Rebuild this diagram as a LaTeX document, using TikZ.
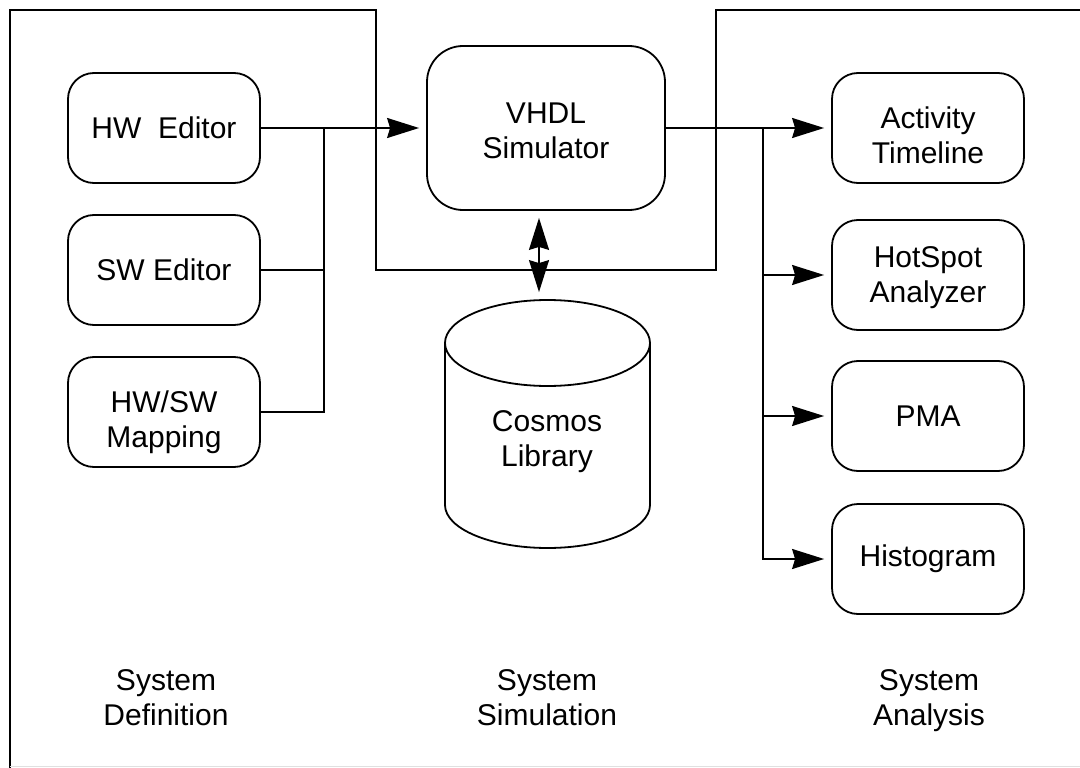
\documentclass[tikz,border=0pt]{standalone}
\usepackage{fontspec}
\setmainfont{Liberation Sans}
\usetikzlibrary{arrows.meta}
% invisible strut that raises the top of a first text line
\newcommand\topstrut[1]{\rule{0pt}{#1}}
\begin{document}
\begin{tikzpicture}[x=1pt, y=-1pt, line width=1.8pt,
  txt/.style={align=center, inner sep=0pt, font=\fontsize{30}{35}\selectfont},
  box/.style={txt, draw, rounded corners=26pt, minimum width=192pt, minimum height=110pt},
  tip/.style={-{Stealth[length=32pt, width=20pt, inset=3pt]}, shorten >=7pt},
  dbl/.style={{Stealth[length=32pt, width=20pt, inset=3pt]}-{Stealth[length=32pt, width=20pt, inset=3pt]}, shorten >=7pt, shorten <=7pt}]
\useasboundingbox (0,0) rectangle (1080,768);

% outline of the three regions
\draw (10,768) -- (10,10) -- (376,10) -- (376,270) -- (716,270) -- (716,10) -- (1080,10);
\draw[black!12, line width=1pt] (10,766.5) -- (1080,766.5);

% system definition tools
\node[box] (hw)  at (164,128) {HW\ \ Editor};
\node[box] (sw)  at (164,270) {SW Editor};
\node[box] (map) at (164,412) {\topstrut{41.5pt}HW/SW\\Mapping};

% simulator
\node[box, minimum width=238pt, minimum height=164pt, rounded corners=36pt] (sim) at (546,128) {\topstrut{25.5pt}VHDL\\Simulator};

% analysis tools
\node[box] (act) at (928,128) {\topstrut{35.5pt}Activity\\Timeline};
\node[box] (hot) at (928,275) {\topstrut{25.5pt}HotSpot\\Analyzer};
\node[box] (pma) at (928,416) {PMA};
\node[box] (his) at (928,559) {Histogram};

% library cylinder
\node[minimum width=205pt, minimum height=248pt, inner sep=0pt] (lib) at (547.5,424) {};
\draw (547.5,343) ellipse [x radius=102.5, y radius=43];
\draw (445,343) -- (445,505) arc[start angle=180, end angle=0, x radius=102.5, y radius=43] -- (650,343);
\node[txt] (libtxt) at (547,442) {Cosmos\\Library};

% input bus
\coordinate (lbus) at (324,128);
\draw (hw.east) -- (lbus);
\draw (sw.east) -- (sw.east -| lbus);
\draw (map.east) -| (lbus);
\draw[tip] (lbus) -- (sim.west);

% output bus
\coordinate (rbus) at (763,128);
\draw (sim.east) -- (rbus);
\draw[tip] (rbus) -- (act.west);
\draw[tip] (hot.west -| rbus) -- (hot.west);
\draw[tip] (pma.west -| rbus) -- (pma.west);
\draw[tip] (rbus) |- (his.west);

% simulator <-> library
\draw[dbl] ([xshift=-7pt]sim.south) -- ([xshift=-7pt]sim.south |- lib.north);

% region captions
\node[txt] (def) at (166,698) {System\\Definition};
\node[txt] (simcap) at (547,698) {System\\Simulation};
\node[txt] (ana) at (929,701) {System\\Analysis};
\end{tikzpicture}
\end{document}
